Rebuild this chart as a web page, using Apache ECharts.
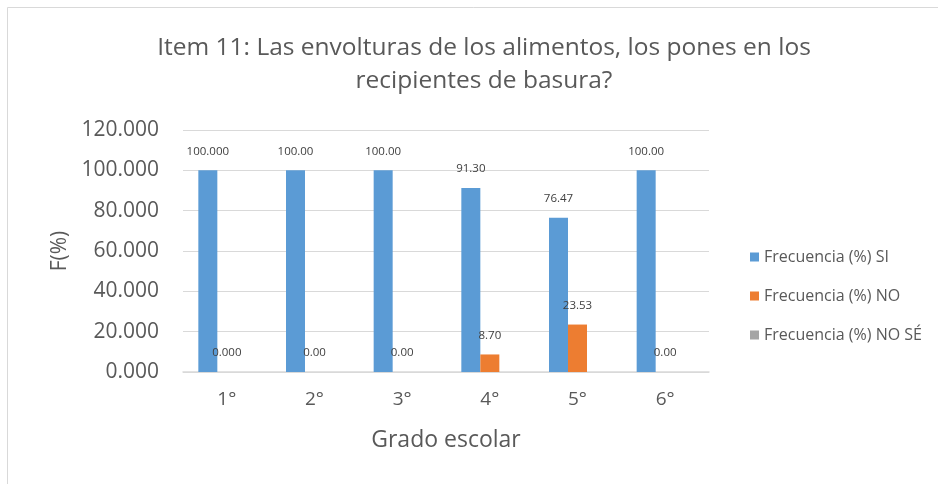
<!DOCTYPE html>
<html>
<head>
<meta charset="utf-8">
<script src="https://cdn.jsdelivr.net/npm/echarts@6/dist/echarts.min.js"></script>
<style>
  html, body { margin: 0; padding: 0; background: #fff; }
  #chart { width: 938px; height: 484px; }
</style>
</head>
<body>
<div id="chart"></div>
<script>
const categories = ['1°', '2°', '3°', '4°', '5°', '6°']
const seriesNames = ['Frecuencia (%) SI', 'Frecuencia (%) NO', 'Frecuencia (%) NO SÉ']
const siValues = [100, 100, 100, 91.30, 76.47, 100]
const noValues = [0, 0, 0, 8.70, 23.53, 0]
const noSeValues = [0, 0, 0, 0, 0, 0]
// decimals shown in the data labels for each category (first one has 3)
const labelDecimals = [3, 2, 2, 2, 2, 2]
const yTicks = { min: 0, max: 120, interval: 20 }

const textColor = '#595959'
const labelColor = '#404040'
const fontFamily = '"Open Sans", sans-serif'

const chart = echarts.init(document.getElementById('chart'), null, { renderer: 'canvas' })

const barLabel = {
  show: true,
  position: 'top',
  distance: 13,
  color: labelColor,
  fontFamily: fontFamily,
  fontSize: 11.5,
  formatter: (p) => p.value.toFixed(labelDecimals[p.dataIndex]),
}

chart.setOption({
  animation: false,
  backgroundColor: '#fff',
  graphic: [
    {
      type: 'rect',
      shape: { x: 7.5, y: 7.5, width: 1000, height: 1000 },
      style: { fill: 'none', stroke: '#d9d9d9', lineWidth: 1 },
      silent: true,
    },
  ],
  title: {
    text: 'Item 11: Las envolturas de los alimentos, los pones en los\nrecipientes de basura?',
    left: 479,
    top: 27,
    textAlign: 'center',
    textStyle: {
      color: textColor,
      fontFamily: fontFamily,
      fontWeight: 'normal',
      fontSize: 24.5,
      lineHeight: 33,
      align: 'center',
    },
  },
  legend: {
    orient: 'vertical',
    left: 745,
    top: 244,
    itemWidth: 9,
    itemHeight: 9,
    itemGap: 23,
    icon: 'rect',
    textStyle: { color: textColor, fontFamily: fontFamily, fontSize: 16 },
    data: seriesNames,
  },
  grid: { left: 183, right: 229, top: 130, bottom: 112 },
  xAxis: {
    type: 'category',
    data: categories,
    name: 'Grado escolar',
    nameLocation: 'middle',
    nameGap: 57,
    nameTextStyle: { color: textColor, fontFamily: fontFamily, fontSize: 23 },
    axisLine: { lineStyle: { color: '#d9d9d9', width: 1.5 } },
    axisTick: { show: false },
    axisLabel: { color: textColor, fontFamily: fontFamily, fontSize: 19, margin: 18 },
  },
  yAxis: {
    type: 'value',
    min: yTicks.min,
    max: yTicks.max,
    interval: yTicks.interval,
    name: 'F(%)',
    nameLocation: 'middle',
    nameGap: 112,
    nameTextStyle: { color: textColor, fontFamily: fontFamily, fontSize: 21 },
    axisLine: { show: false },
    axisTick: { show: false },
    splitLine: { lineStyle: { color: '#d9d9d9', width: 1 } },
    axisLabel: {
      color: textColor,
      fontFamily: fontFamily,
      fontSize: 21,
      margin: 24,
      formatter: (v) => v.toFixed(3),
    },
  },
  series: [
    {
      name: seriesNames[0],
      type: 'bar',
      data: siValues,
      barWidth: 19,
      barGap: '0%',
      itemStyle: { color: '#5B9BD5' },
      label: barLabel,
    },
    {
      name: seriesNames[1],
      type: 'bar',
      data: noValues,
      barWidth: 19,
      barGap: '0%',
      itemStyle: { color: '#ED7D31' },
      label: barLabel,
    },
    {
      name: seriesNames[2],
      type: 'bar',
      data: noSeValues,
      barWidth: 19,
      barGap: '0%',
      itemStyle: { color: '#A5A5A5' },
    },
  ],
})
</script>
</body>
</html>
